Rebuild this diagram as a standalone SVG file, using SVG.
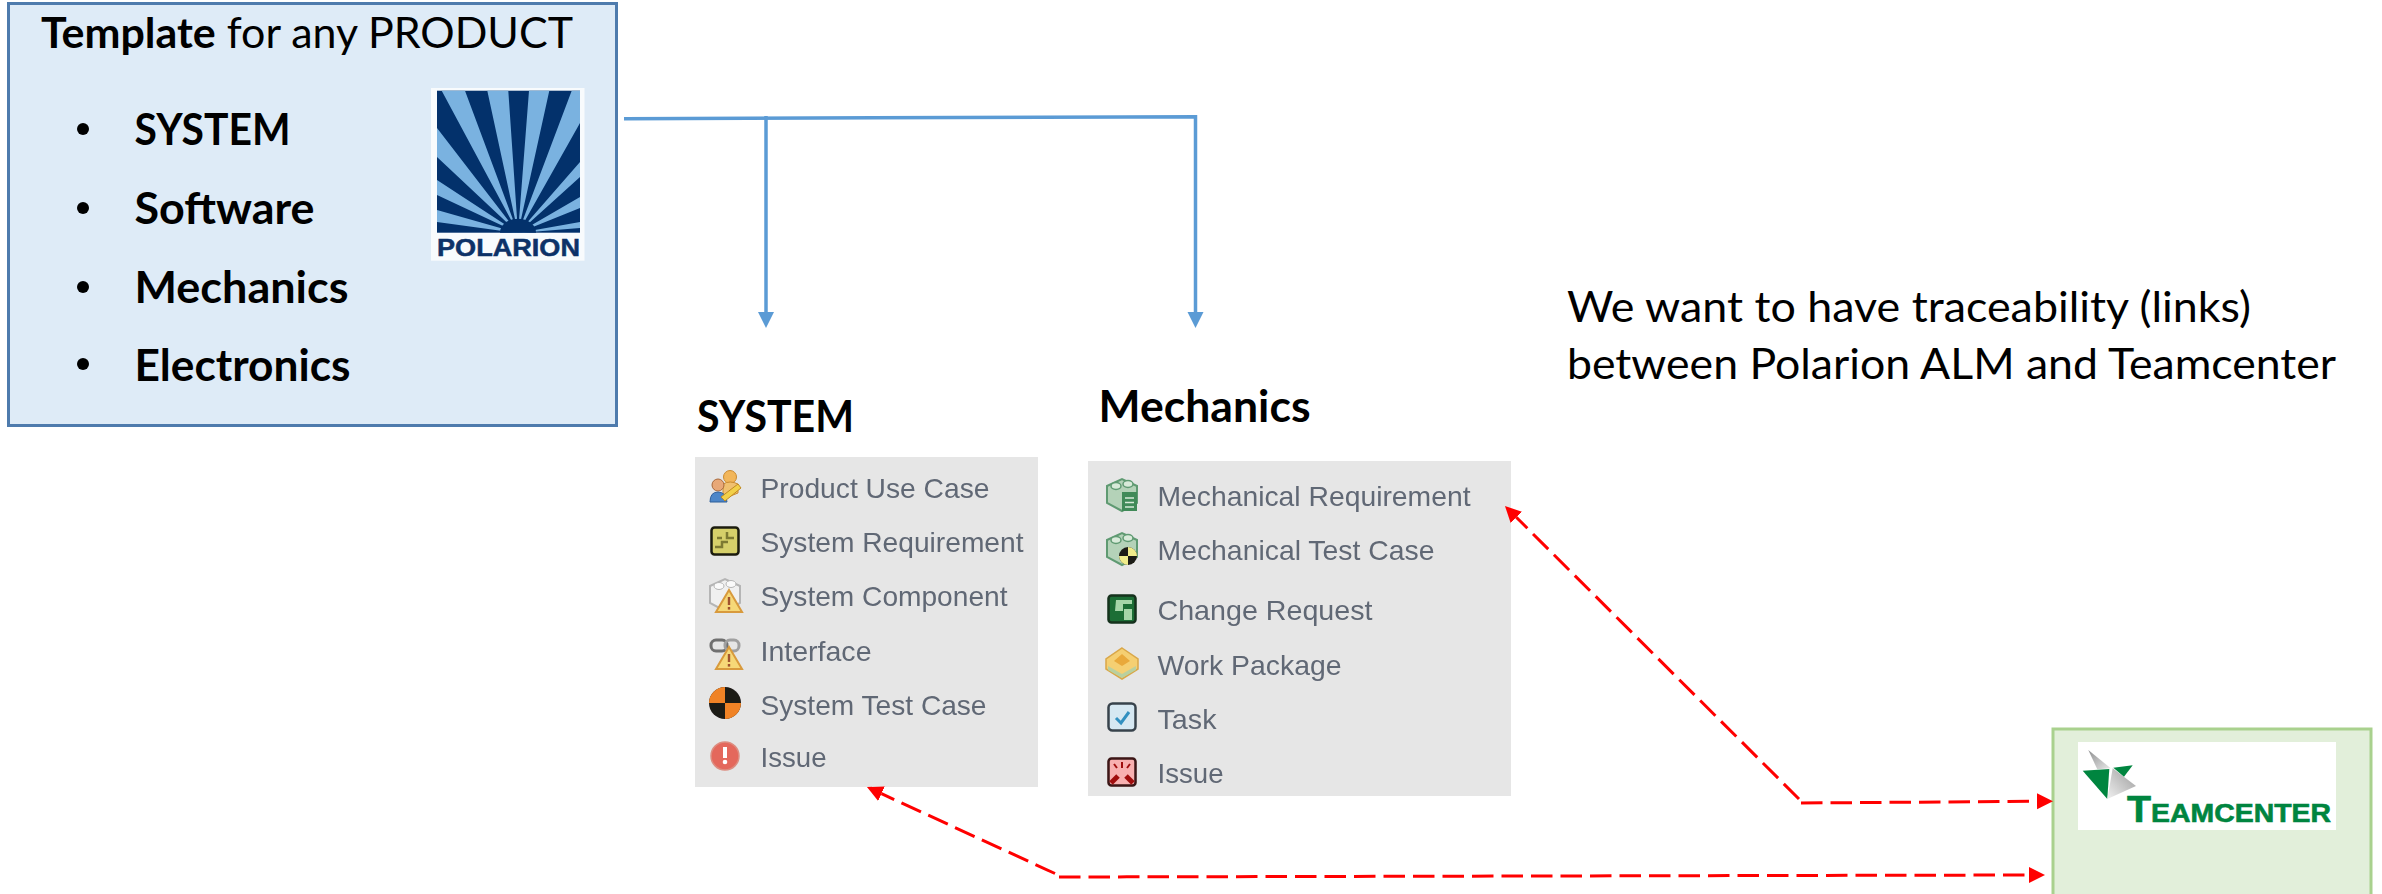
<svg xmlns="http://www.w3.org/2000/svg" width="2382" height="894" viewBox="0 0 2382 894">
<style>
.cal{font-family:"Lato","Carlito","Liberation Sans",sans-serif;fill:#000}
.b{font-weight:700}
.item{font-family:"Liberation Sans",Arial,sans-serif;font-size:28px;fill:#616875}
.panel{fill:#e6e6e6}
.blue{fill:none;stroke:#5b9bd5;stroke-width:3.5}
.red{fill:none;stroke:#ff0000;stroke-width:3;stroke-dasharray:21.5 8}
.lt{fill:#7ab2e0}
</style>
<defs>
<marker id="ab" markerUnits="userSpaceOnUse" markerWidth="17" markerHeight="17" refX="0" refY="8" orient="auto"><path d="M0,0L16,8L0,16Z" fill="#5b9bd5"/></marker>
<marker id="ar" markerUnits="userSpaceOnUse" markerWidth="17" markerHeight="17" refX="0" refY="8" orient="auto"><path d="M0,0L16,8L0,16Z" fill="#ff0000"/></marker>
<filter id="soft" x="-5%" y="-5%" width="110%" height="110%"><feGaussianBlur stdDeviation="0.5"/></filter>
<linearGradient id="g1" x1="0" y1="0" x2="1" y2="1"><stop offset="0" stop-color="#8f9091"/><stop offset="1" stop-color="#e8e8e8"/></linearGradient>
<linearGradient id="g2" x1="0" y1="1" x2="1" y2="0"><stop offset="0" stop-color="#f0f0f0"/><stop offset="1" stop-color="#9a9a9a"/></linearGradient>
<g id="warn"><path d="M0,-12L13,10H-13Z" fill="#f6d878" stroke="#d89a3c" stroke-width="2"/><rect x="-1.2" y="-5" width="2.4" height="8" fill="#a0522d"/><rect x="-1.2" y="5" width="2.4" height="2.6" fill="#a0522d"/></g>
<g id="lego"><path d="M-15,-9L0,-16L15,-9V8L0,16L-15,8Z" fill="#b4d2b8" stroke="#5f9a72" stroke-width="2"/><ellipse cx="-6" cy="-9" rx="5" ry="3.5" fill="#d8ead9" stroke="#5f9a72" stroke-width="1.5"/><ellipse cx="6" cy="-11" rx="5" ry="3.5" fill="#d8ead9" stroke="#5f9a72" stroke-width="1.5"/></g>
</defs>

<g id="template">
<rect x="8.5" y="3.5" width="608" height="422" fill="#deebf7" stroke="#4e7bad" stroke-width="3"/>
<text class="cal" x="41" y="48" font-size="42" textLength="532" lengthAdjust="spacingAndGlyphs"><tspan class="b">Template</tspan> for any PRODUCT</text>
<circle cx="83" cy="129" r="6"/><circle cx="83" cy="208" r="6"/><circle cx="83" cy="287" r="6"/><circle cx="83" cy="364" r="6"/>
<text class="cal b" x="134.500" y="145" font-size="44" textLength="156" lengthAdjust="spacingAndGlyphs">SYSTEM</text>
<text class="cal b" x="134.500" y="224" font-size="44" textLength="180" lengthAdjust="spacingAndGlyphs">Software</text>
<text class="cal b" x="134.500" y="303" font-size="44" textLength="214" lengthAdjust="spacingAndGlyphs">Mechanics</text>
<text class="cal b" x="134.500" y="381" font-size="44" textLength="216" lengthAdjust="spacingAndGlyphs">Electronics</text>
</g>

<g id="polarion-logo">
<rect x="431" y="88" width="153.500" height="172.700" fill="#f8fbfd"/>
<rect x="437" y="90.700" width="143" height="142" fill="#03316b"/>
<path class="lt" d="M441.700,90.700H465L518,233ZM487.300,90.700H508.300L518,233ZM529,90.700H549.300L518,233ZM571.700,90.700H580V123L518,233ZM437,128V157L518,233ZM437,180V195L518,233ZM437,210V222L518,233ZM580,162V177L518,233ZM580,197V208L518,233ZM580,222V228L518,233Z"/>
<path d="M500,232.700A18,14 0 0 1 536,232.700Z" fill="#03316b"/>
<text x="437" y="255.500" font-family="Liberation Sans, sans-serif" font-weight="700" font-size="24.500" fill="#0d3268" stroke="#0d3268" stroke-width="0.500" textLength="143" lengthAdjust="spacingAndGlyphs">POLARION</text>
</g>

<g id="traceability-note">
<text class="cal" x="1567" y="321.700" font-size="42" textLength="684" lengthAdjust="spacingAndGlyphs">We want to have traceability (links)</text>
<text class="cal" x="1567" y="379" font-size="42" textLength="769" lengthAdjust="spacingAndGlyphs">between Polarion ALM and Teamcenter</text>
</g>

<g id="system">
<text class="cal b" x="697" y="431.700" font-size="44" textLength="157" lengthAdjust="spacingAndGlyphs">SYSTEM</text>
<rect class="panel" x="695" y="457" width="343" height="330"/>
<g filter="url(#soft)">
<text class="item" x="760.500" y="497.500" textLength="229" lengthAdjust="spacingAndGlyphs">Product Use Case</text>
<text class="item" x="760.500" y="552" textLength="263" lengthAdjust="spacingAndGlyphs">System Requirement</text>
<text class="item" x="760.500" y="606" textLength="247" lengthAdjust="spacingAndGlyphs">System Component</text>
<text class="item" x="760.500" y="660.500" textLength="111" lengthAdjust="spacingAndGlyphs">Interface</text>
<text class="item" x="760.500" y="714.500" textLength="226" lengthAdjust="spacingAndGlyphs">System Test Case</text>
<text class="item" x="760.500" y="766.500" textLength="66" lengthAdjust="spacingAndGlyphs">Issue</text>
<g transform="translate(725,487)"><circle cx="5" cy="-10" r="6.500" fill="#f2b65a" stroke="#c98a30"/><path d="M-2,-3Q5,-7 13,-3V6L-2,12Z" fill="#f0c070" stroke="#c98a30"/><circle cx="-7" cy="-2" r="6" fill="#e8a878" stroke="#a8683a"/><path d="M-15,15Q-15,5 -7,5Q1,5 2,15Z" fill="#4d86c8" stroke="#2f5f9a"/><path d="M-4,10L13,-3L16,1L0,14Z" fill="#f2d04a" stroke="#c08a20"/></g>
<g transform="translate(725,541)"><rect x="-13.500" y="-13.500" width="27" height="27" rx="3" fill="#d6d06a" stroke="#1c1c10" stroke-width="2.500"/><path d="M-10,6H-3V1H3M2,-9V-3H9M-8,-3H-3" fill="none" stroke="#7d7a30" stroke-width="2.500"/></g>
<g transform="translate(725,595)"><path d="M-15,-9L0,-16L15,-9V8L0,16L-15,8Z" fill="#f0f0f0" stroke="#b5b5b5" stroke-width="2"/><ellipse cx="-6" cy="-9" rx="5" ry="3.500" fill="#fafafa" stroke="#b5b5b5"/><ellipse cx="6" cy="-11" rx="5" ry="3.500" fill="#fafafa" stroke="#b5b5b5"/><use href="#warn" x="4" y="7"/></g>
<g transform="translate(725,653)"><rect x="-14" y="-13" width="16" height="11" rx="5" fill="none" stroke="#6f6f6f" stroke-width="3"/><rect x="0" y="-13" width="14" height="11" rx="5" fill="none" stroke="#a0a0a0" stroke-width="3"/><use href="#warn" x="4" y="6"/></g>
<g transform="translate(725,703)"><circle r="16" fill="#1d1a18"/><path d="M0,0V-16A16,16 0 0 0 -16,0ZM0,0V16A16,16 0 0 0 16,0Z" fill="#f08326"/></g>
<g transform="translate(725,756)"><circle r="14" fill="#e4685c" stroke="#dd8d80" stroke-width="1.500"/><rect x="-2" y="-9" width="4" height="11" fill="#fff"/><circle cy="6" r="2.300" fill="#fff"/></g>
</g>
</g>

<g id="mechanics">
<text class="cal b" x="1098.500" y="421.700" font-size="44" textLength="212" lengthAdjust="spacingAndGlyphs">Mechanics</text>
<rect class="panel" x="1088" y="461" width="423" height="335"/>
<g filter="url(#soft)">
<text class="item" x="1157.500" y="506" textLength="313" lengthAdjust="spacingAndGlyphs">Mechanical Requirement</text>
<text class="item" x="1157.500" y="560" textLength="277" lengthAdjust="spacingAndGlyphs">Mechanical Test Case</text>
<text class="item" x="1157.500" y="620" textLength="215" lengthAdjust="spacingAndGlyphs">Change Request</text>
<text class="item" x="1157.500" y="674.500" textLength="184" lengthAdjust="spacingAndGlyphs">Work Package</text>
<text class="item" x="1157.500" y="728.500" textLength="59" lengthAdjust="spacingAndGlyphs">Task</text>
<text class="item" x="1157.500" y="782.500" textLength="66" lengthAdjust="spacingAndGlyphs">Issue</text>
<g transform="translate(1122,495)"><use href="#lego"/><rect x="0" y="-3" width="15" height="19" fill="#3f8a58"/><path d="M3,3H12M3,7.500H12M3,12H12" stroke="#d8ead9" stroke-width="1.500"/></g>
<g transform="translate(1122,549)"><use href="#lego"/><circle cx="6" cy="7" r="9" fill="#1b1b12"/><path d="M6,7V-2A9,9 0 0 1 15,7ZM6,7V16A9,9 0 0 1 -3,7Z" fill="#f0ec8a"/></g>
<g transform="translate(1122,609)"><rect x="-13.500" y="-13.500" width="27" height="27" rx="3" fill="#1f6e35" stroke="#14301c" stroke-width="2.500"/><path d="M-6,-9H10V-5H1V2H-7ZM2,0H10V11H2Z" fill="#a5d6a8"/></g>
<g transform="translate(1122,663)"><path d="M0,-15L16,-4V6L0,16L-16,6V-4Z" fill="#f5cf72" stroke="#d9a748" stroke-width="1.500"/><path d="M-14,3L0,11L14,3V7L0,15L-14,7Z" fill="#b9d0a0"/><path d="M-8,-2L0,-9L8,-2L0,3Z" fill="#e9a93a"/></g>
<g transform="translate(1122,717)"><rect x="-13.500" y="-13.500" width="27" height="27" rx="4" fill="#d6e8f2" stroke="#37434c" stroke-width="2.500"/><path d="M-6,1L-1,6L7,-5" fill="none" stroke="#3290c0" stroke-width="3"/></g>
<g transform="translate(1122,772)"><rect x="-13.500" y="-13.500" width="27" height="27" rx="3" fill="#f8b0b0" stroke="#3a1414" stroke-width="2.500"/><path d="M-11,11L-4,4M11,11L4,4" stroke="#a01010" stroke-width="5"/><path d="M0,-10V-4M-8,-8L-5,-4M8,-8L5,-4" stroke="#a01010" stroke-width="2"/></g>
</g>
</g>

<g id="teamcenter">
<rect x="2053" y="729" width="318" height="171" fill="#e2efda" stroke="#a9d18e" stroke-width="3"/>
<rect x="2078" y="742" width="258" height="88" fill="#ffffff"/>
<path d="M2088.300,750L2110.700,768.300L2097.300,769.300Z" fill="url(#g1)"/>
<path d="M2082.700,770.700L2109.300,769L2107.300,799Z" fill="#00853f"/>
<path d="M2112.700,768.300L2136,786L2107.300,799Z" fill="url(#g2)"/>
<path d="M2113.300,767.700L2132.700,765.300L2124,776.700Z" fill="#00853f"/>
<text x="2127" y="822" font-family="Liberation Sans, sans-serif" font-weight="700" font-size="26" fill="#00853f" stroke="#00853f" stroke-width="0.600" textLength="204" lengthAdjust="spacingAndGlyphs"><tspan font-size="36">T</tspan>EAMCENTER</text>
</g>

<g id="connectors">
<path class="blue" d="M624,118.700L1195.500,116.700V312" marker-end="url(#ab)"/>
<path class="blue" d="M766,116V312" marker-end="url(#ab)"/>
<path class="red" d="M1799,799L1516.300,517.300" marker-end="url(#ar)"/>
<path class="red" d="M1801,803L2037,801.300" marker-end="url(#ar)"/>
<path class="red" d="M1055,873.500L881.500,793.700" marker-end="url(#ar)"/>
<path class="red" d="M1059,877L2029,875" marker-end="url(#ar)"/>
</g>
</svg>
